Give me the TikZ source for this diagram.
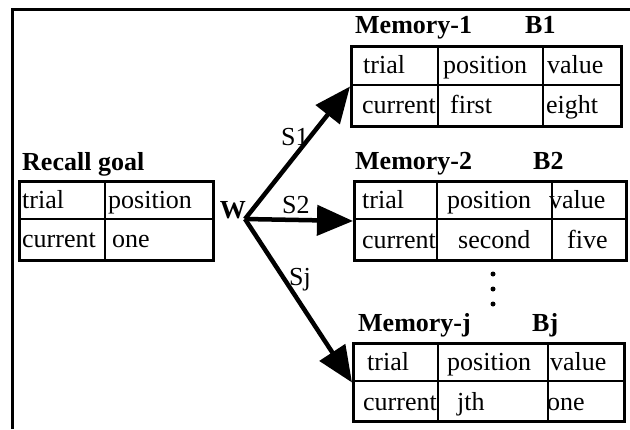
\documentclass[tikz,border=0pt]{standalone}
\usepackage{fontspec}
\setmainfont{Liberation Serif}
\usetikzlibrary{arrows.meta}
\begin{document}
\begin{tikzpicture}[x=1pt,y=-1pt,
  txt/.style={font=\fontsize{26pt}{30pt}\selectfont, anchor=base west, inner sep=0pt},
  ttl/.style={font=\fontsize{26pt}{30pt}\selectfont\bfseries, anchor=base west, inner sep=0pt},
  outer/.style={draw, line width=3pt, inner sep=0pt, anchor=north west},
  gridln/.style={line width=2.2pt},
  arr/.style={line width=4.5pt, -{Triangle[length=36pt,width=30pt]}},
  dot/.style={circle, fill, inner sep=0pt, minimum size=5pt}
]
\useasboundingbox (0,0) rectangle (630,429);
% frame
\draw[line width=3pt] (12,429) -- (12,9) -- (630,9);

% ---------- Recall goal ----------
\node[ttl] (rgt) at (22,170) {Recall goal};
\node[txt] (r11) at (22,208) {trial};
\node[txt] (r12) at (108,208) {position};
\node[txt] (r21) at (22,247) {current};
\node[txt] (r22) at (112,247) {one};
\node[outer, minimum width=194pt, minimum height=79pt] (rg) at (18,180) {};
\draw[gridln] (18,219) -- (212,219);
\draw[gridln] (105,180) -- (105,259);

% ---------- Memory-1 ----------
\node[ttl] (m1t) at (355,33) {Memory-1};
\node[ttl] (m1b) at (525,33) {B1};
\node[txt] (a11) at (363,73) {trial};
\node[txt] (a12) at (443,73) {position};
\node[txt] (a13) at (547,73) {value};
\node[txt] (a21) at (362,113) {current};
\node[txt] (a22) at (450,113) {first};
\node[txt] (a23) at (546,113) {eight};
\node[outer, minimum width=270pt, minimum height=80pt] (m1) at (350,45) {};
\draw[gridln] (350,85) -- (620,85);
\draw[gridln] (438,45) -- (438,125);
\draw[gridln] (543,45) -- (543,125);

% ---------- Memory-2 ----------
\node[ttl] (m2t) at (355,169) {Memory-2};
\node[ttl] (m2b) at (533,169) {B2};
\node[txt] (b11) at (362,208) {trial};
\node[txt] (b12) at (447,208) {position};
\node[txt] (b13) at (549,208) {value};
\node[txt] (b21) at (362,248) {current};
\node[txt] (b22) at (458,248) {second};
\node[txt] (b23) at (567,248) {five};
\node[outer, minimum width=272pt, minimum height=79pt] (m2) at (353,180) {};
\draw[gridln] (353,219) -- (625,219);
\draw[gridln] (437,180) -- (437,259);
\draw[gridln] (552,180) -- (552,259);

% ---------- dots ----------
\node[dot] (d1) at (493,274) {};
\node[dot] (d2) at (493,289) {};
\node[dot] (d3) at (493,304) {};

% ---------- Memory-j ----------
\node[ttl] (mjt) at (358,331) {Memory-j};
\node[ttl] (mjb) at (532,331) {Bj};
\node[txt] (c11) at (367,370) {trial};
\node[txt] (c12) at (447,370) {position};
\node[txt] (c13) at (550,370) {value};
\node[txt] (c21) at (363,410) {current};
\node[txt] (c22) at (457,410) {jth};
\node[txt] (c23) at (547,410) {one};
\node[outer, minimum width=271pt, minimum height=78pt] (mj) at (352,342) {};
\draw[gridln] (352,381) -- (623,381);
\draw[gridln] (438,342) -- (438,420);
\draw[gridln] (548,342) -- (548,420);

% ---------- W and arrows ----------
\node[ttl, anchor=base east] (w) at (246,218) {W};
\coordinate (apex) at (245,219);
\draw[arr] (apex) -- (m1.west);
\draw[arr] (apex) -- (m2.west);
\draw[arr] (apex) -- (mj.west);
\node[txt] (s1) at (281,145) {S1};
\node[txt] (s2) at (282,213) {S2};
\node[txt] (sj) at (289,285) {Sj};
\end{tikzpicture}
\end{document}
